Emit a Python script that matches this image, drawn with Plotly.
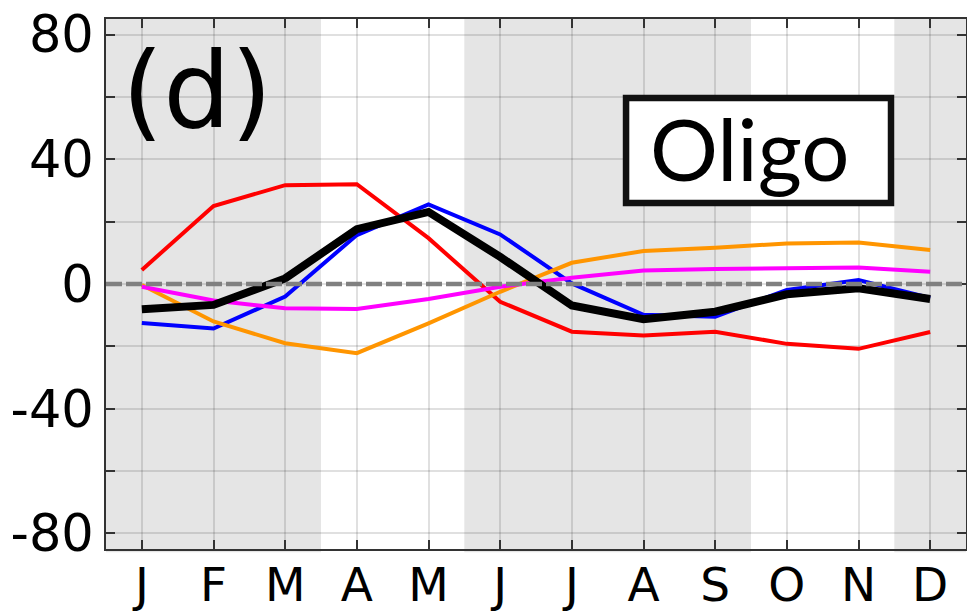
import plotly.graph_objects as go

months = ["J", "F", "M", "A", "M", "J", "J", "A", "S", "O", "N", "D"]
x_idx = list(range(len(months)))

red_vals = [4.5, 25, 31.7, 32, 14.7, -5.7, -15.3, -16.5, -15.3, -19.2, -20.8, -15.4]
blue_vals = [-12.5, -14.3, -4, 15.7, 25.5, 15.9, 0.2, -9.9, -10.5, -1.9, 1.3, -4.5]
orange_vals = [-0.3, -12, -19, -22.2, -12.6, -2.5, 6.8, 10.6, 11.6, 13, 13.3, 10.9]
magenta_vals = [-0.9, -5.3, -7.8, -8, -4.8, -0.9, 2, 4.3, 4.8, 5.2, 5.3, 3.9]
black_vals = [-8.1, -6.7, 1.8, 17.6, 23.1, 8.7, -6.9, -11.3, -8.9, -3.3, -1.4, -4.8]

y_ticks = [-80, -60, -40, -20, 0, 20, 40, 60, 80]
y_ticktext = ["-80", "", "-40", "", "0", "", "40", "", "80"]

shade_bands = [(-0.5, 2.5), (4.5, 8.5), (10.5, 11.5)]

fig = go.Figure()

series = [
    (red_vals, "#ff0000", 4),
    (blue_vals, "#0000ff", 4),
    (orange_vals, "#ff9500", 4),
    (magenta_vals, "#ff00ff", 4),
    (black_vals, "#000000", 8),
]
for vals, col, w in series:
    fig.add_trace(go.Scatter(x=x_idx, y=vals, mode="lines",
                             line=dict(color=col, width=w), showlegend=False,
                             hoverinfo="skip"))

shapes = []
for a, b in shade_bands:
    shapes.append(dict(type="rect", xref="x", yref="paper", x0=a, x1=b, y0=-0.006, y1=1,
                       fillcolor="#e5e5e5", line=dict(width=0), layer="below"))
# zero dashed line
shapes.append(dict(type="line", xref="paper", yref="y", x0=0, x1=1, y0=0, y1=0,
                   line=dict(color="#808080", width=4.5, dash="16px,4px"), layer="above"))
# Oligo box
shapes.append(dict(type="rect", xref="paper", yref="paper", x0=0.6047, x1=0.9128,
                   y0=0.653, y1=0.851, fillcolor="white",
                   line=dict(color="#111111", width=6.5), layer="above"))

fig.update_layout(
    width=967, height=613,
    margin=dict(l=106, r=1, t=19, b=64),
    paper_bgcolor="white", plot_bgcolor="white",
    shapes=shapes,
    font=dict(family="DejaVu Sans", color="black"),
    annotations=[
        dict(text="(d)", xref="paper", yref="paper", x=0.016, y=0.866,
             xanchor="left", yanchor="middle", showarrow=False,
             font=dict(family="DejaVu Sans", size=106, color="black")),
        dict(text="Oligo", xref="paper", yref="paper", x=0.7477, y=0.757,
             xanchor="center", yanchor="middle", showarrow=False,
             font=dict(family="Lato", size=85, color="black")),
    ],
)

fig.update_xaxes(range=[-0.5, 11.5], tickvals=x_idx, ticktext=months,
                 ticks="inside", ticklen=9, tickwidth=2, tickcolor="#333333",
                 showline=True, linecolor="#333333", linewidth=2, mirror="ticks",
                 showgrid=True, gridcolor="rgba(0,0,0,0.12)", gridwidth=1.5,
                 zeroline=False, automargin=False, ticklabelstandoff=-6,
                 tickfont=dict(size=47, family="DejaVu Sans"))
fig.update_yaxes(range=[-85, 85], tickvals=y_ticks, ticktext=y_ticktext,
                 ticks="inside", ticklen=9, tickwidth=2, tickcolor="#333333",
                 showline=True, linecolor="#333333", linewidth=2, mirror="ticks",
                 showgrid=True, gridcolor="rgba(0,0,0,0.12)", gridwidth=1.5,
                 zeroline=False, automargin=False,
                 tickfont=dict(size=51, family="DejaVu Sans"))

fig.write_html("out.html", config={"displayModeBar": False},
               post_script="document.body.style.margin='0';document.body.style.overflow='hidden';")
